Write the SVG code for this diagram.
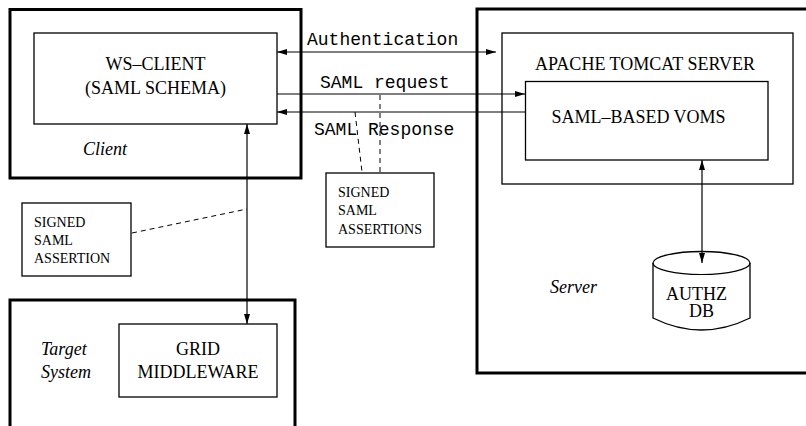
<svg xmlns="http://www.w3.org/2000/svg" width="806" height="426" viewBox="0 0 806 426">
<defs>
<marker id="ah" viewBox="0 0 10 6" refX="10" refY="3" markerWidth="10" markerHeight="6" markerUnits="userSpaceOnUse" orient="auto-start-reverse">
<path d="M0,0 L10,3 L0,6 Z" fill="#000"/>
</marker>
<style>
.outer{fill:none;stroke:#000;stroke-width:3}
.box{fill:#fff;stroke:#000;stroke-width:1.3}
.t{font-family:"Liberation Serif","Times New Roman",serif;font-size:18px;fill:#000}
.i{font-family:"Liberation Serif","Times New Roman",serif;font-size:18px;font-style:italic;fill:#000}
.s{font-family:"Liberation Serif","Times New Roman",serif;font-size:14px;fill:#000}
.m{font-family:"Liberation Mono","Courier New",monospace;font-size:18px;fill:#000}
.ln{fill:none;stroke:#000;stroke-width:1.2}
.dash{fill:none;stroke:#000;stroke-width:1;stroke-dasharray:5,4}
</style>
</defs>
<rect width="806" height="426" fill="#fff"/>
<g id="client">
<rect class="outer" x="10" y="9.5" width="291" height="168.5"/>
<text class="i" x="83" y="155">Client</text>
</g>
<g id="ws-client">
<rect class="box" x="34" y="33" width="243" height="91"/>
<text class="t" x="155.5" y="70" text-anchor="middle">WS–CLIENT</text>
<text class="t" x="155.5" y="94" text-anchor="middle">(SAML SCHEMA)</text>
</g>
<g id="server">
<path class="outer" d="M810,9 H477 V373 H810"/>
<text class="i" x="550" y="293">Server</text>
</g>
<g id="tomcat">
<rect class="box" x="502" y="33" width="291" height="151"/>
<text class="t" x="645" y="70" text-anchor="middle">APACHE TOMCAT SERVER</text>
</g>
<g id="voms">
<rect class="box" x="525.5" y="81.5" width="242.5" height="78.5"/>
<text class="t" x="638.5" y="123" text-anchor="middle">SAML–BASED VOMS</text>
</g>
<g id="authz-db">
<path class="box" d="M653,263 A48.5,11.5 0 0 1 750,263 V318 Q701.5,342 653,318 Z"/>
<path class="ln" d="M653,263 A48.5,11.5 0 0 0 750,263"/>
<text class="t" x="696.5" y="300" text-anchor="middle">AUTHZ</text>
<text class="t" x="701.5" y="317" text-anchor="middle">DB</text>
</g>
<g id="target-system">
<path class="outer" d="M10,430 V300 H295 V430"/>
<text class="i" x="41" y="355">Target</text>
<text class="i" x="41" y="378">System</text>
</g>
<g id="grid-middleware">
<rect class="box" x="119" y="324" width="158" height="73"/>
<text class="t" x="198" y="355" text-anchor="middle">GRID</text>
<text class="t" x="198" y="378" text-anchor="middle">MIDDLEWARE</text>
</g>
<g id="signed-saml-assertions">
<rect class="box" x="326" y="173" width="108" height="74"/>
<text class="s" x="338" y="197">SIGNED</text>
<text class="s" x="338" y="215">SAML</text>
<text class="s" x="338" y="234">ASSERTIONS</text>
</g>
<g id="signed-saml-assertion">
<rect class="box" x="22" y="203" width="109" height="73"/>
<text class="s" x="34" y="227">SIGNED</text>
<text class="s" x="34" y="245">SAML</text>
<text class="s" x="34" y="263">ASSERTION</text>
</g>
<g id="connectors">
<line class="ln" x1="277" y1="52" x2="496" y2="52" marker-start="url(#ah)" marker-end="url(#ah)"/>
<text class="m" x="307" y="45">Authentication</text>
<line class="ln" x1="277" y1="94" x2="525" y2="94" marker-end="url(#ah)"/>
<text class="m" x="320" y="88">SAML request</text>
<line class="ln" x1="525" y1="112" x2="277" y2="112" marker-end="url(#ah)"/>
<text class="m" x="314" y="135">SAML Response</text>
<line class="dash" x1="355" y1="112" x2="362" y2="172"/>
<line class="dash" x1="380" y1="95" x2="380" y2="172"/>
<line class="ln" x1="702" y1="160" x2="702" y2="263" marker-start="url(#ah)" marker-end="url(#ah)"/>
<line class="ln" x1="247" y1="124" x2="247" y2="324" marker-start="url(#ah)" marker-end="url(#ah)"/>
<line class="dash" x1="132" y1="233" x2="247" y2="209"/>
</g>
</svg>
